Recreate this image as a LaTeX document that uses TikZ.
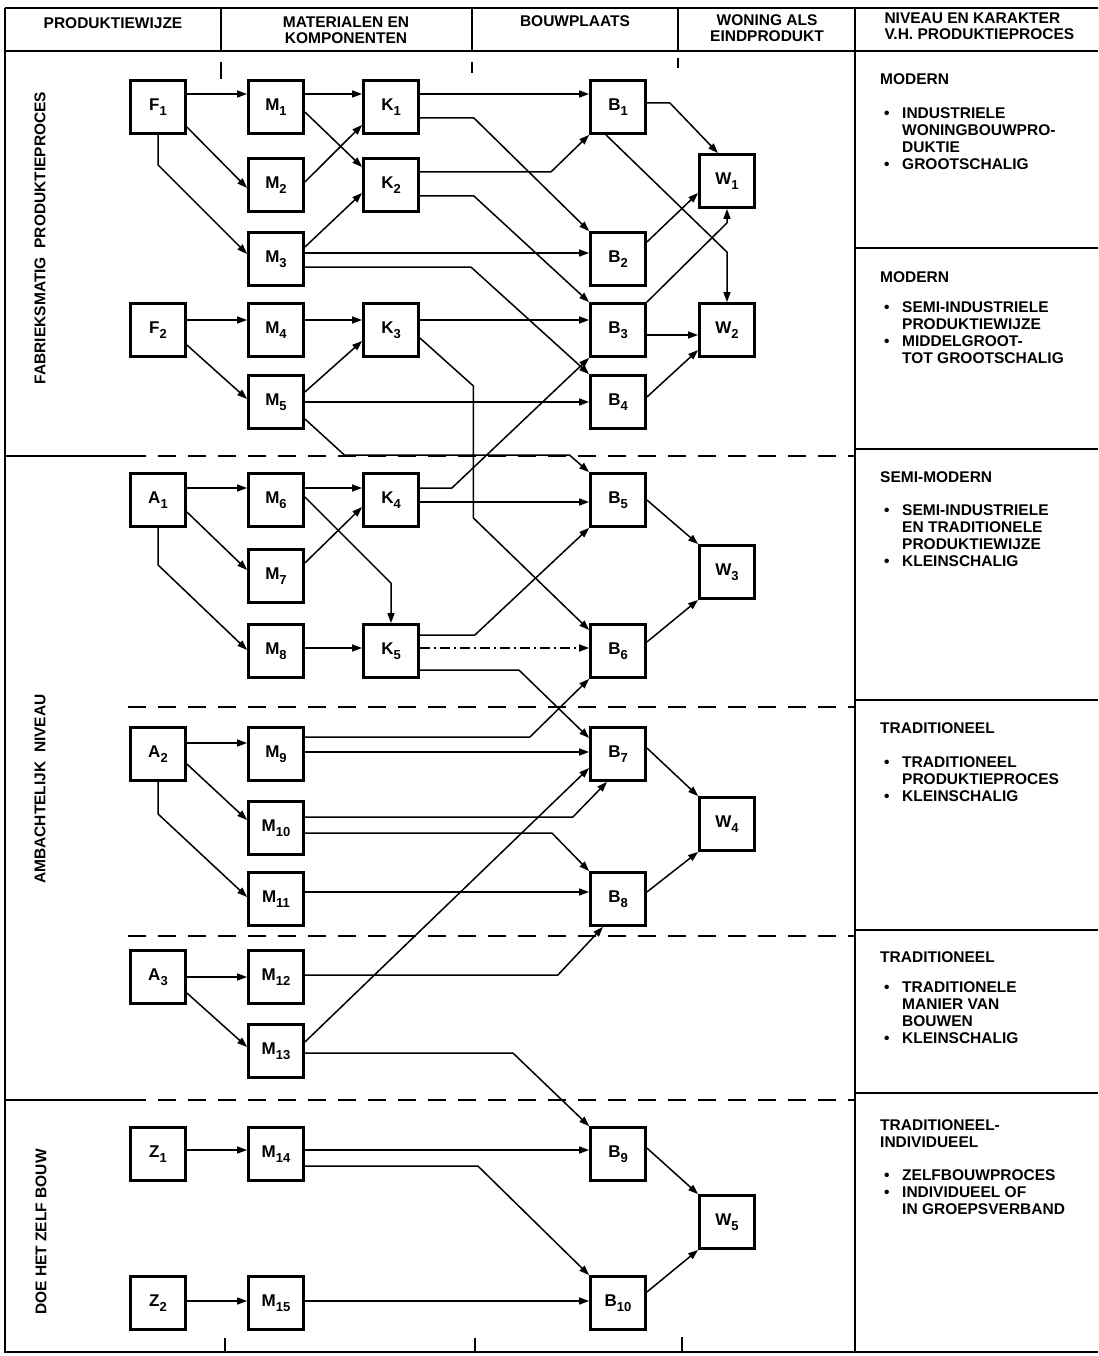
\documentclass[tikz,border=0pt]{standalone}
\usepackage{fontspec}
\setmainfont{Liberation Sans}
\usetikzlibrary{arrows.meta,calc}

\newcommand{\lbl}[2]{{\fontsize{17}{17}\selectfont #1}\raisebox{-5pt}{\fontsize{13}{13}\selectfont #2}}

\begin{document}
\begin{tikzpicture}[
  x=1pt, y=-1pt,
  font=\fontsize{15.5}{17}\selectfont\bfseries,
  box/.style={draw, line width=2.8pt, minimum width=55pt, minimum height=53pt, inner sep=0pt},
  arr/.style={-{Triangle[length=10pt,width=7pt]}, line width=1.5pt},
  mixed/.style={dash pattern=on 10pt off 4pt on 2pt off 4pt},
  frameline/.style={line width=2.2pt},
  divider/.style={line width=1.9pt, dash pattern=on 18pt off 12pt},
  hdr/.style={align=center, font=\fontsize{15.5}{15.5}\selectfont\bfseries},
  side/.style={rotate=90},
  lvl/.style={anchor=base west, inner sep=0pt},
]
\useasboundingbox (0,0) rectangle (1098,1356);
\fill[white] (0,0) rectangle (1098,1356);

%% ---------- table frame ----------
\draw[frameline] (5,8) -- (1098,8);
\draw[frameline] (5,51) -- (1098,51);
\draw[frameline] (5,8) -- (5,1352) -- (1098,1352);
\foreach \x in {221,472,678}
  \draw[frameline] (\x,8) -- (\x,51);
\draw[frameline] (855,8) -- (855,1352);
\draw[line width=1.6pt] (221,62) -- (221,79);
\draw[line width=1.6pt] (472,62) -- (472,73);
\draw[line width=1.6pt] (678,58) -- (678,68);
\draw[line width=1.6pt] (225,1338) -- (225,1352);
\draw[line width=1.6pt] (475,1338) -- (475,1352);
\draw[line width=1.6pt] (682,1337) -- (682,1352);
\foreach \y in {248,449,700,930,1093}
  \draw[frameline] (855,\y) -- (1098,\y);
\draw[frameline] (5,456) -- (128,456);
\draw[frameline] (5,1100) -- (128,1100);
\foreach \y in {456,707,936,1100}
  \draw[divider] (128,\y) -- (855,\y);

%% ---------- headers ----------
\node[hdr] (h1) at (113,23) {PRODUKTIEWIJZE};
\node[hdr] (h2) at (346,30) {MATERIALEN EN\\KOMPONENTEN};
\node[hdr] (h3) at (575,21) {BOUWPLAATS};
\node[hdr] (h4) at (767,28) {WONING ALS\\EINDPRODUKT};
\node[hdr, align=left, anchor=west] (h5) at (881,26) {NIVEAU EN KARAKTER\\V.H. PRODUKTIEPROCES};

\node[side] (s1) at (40,238) {FABRIEKSMATIG~~PRODUKTIEPROCES};
\node[side] (s2) at (40,789) {AMBACHTELIJK~~NIVEAU};
\node[side] (s3) at (41,1232) {DOE HET ZELF BOUW};

%% ---------- boxes ----------
\node[box] (F1) at (158,107) {\lbl{F}{1}};
\node[box] (M1) at (276,107) {\lbl{M}{1}};
\node[box] (K1) at (391,107) {\lbl{K}{1}};
\node[box] (B1) at (618,107) {\lbl{B}{1}};
\node[box] (M2) at (276,185) {\lbl{M}{2}};
\node[box] (K2) at (391,185) {\lbl{K}{2}};
\node[box] (W1) at (727,181) {\lbl{W}{1}};
\node[box] (M3) at (276,259) {\lbl{M}{3}};
\node[box] (B2) at (618,259) {\lbl{B}{2}};
\node[box] (F2) at (158,330) {\lbl{F}{2}};
\node[box] (M4) at (276,330) {\lbl{M}{4}};
\node[box] (K3) at (391,330) {\lbl{K}{3}};
\node[box] (B3) at (618,330) {\lbl{B}{3}};
\node[box] (W2) at (727,330) {\lbl{W}{2}};
\node[box] (M5) at (276,402) {\lbl{M}{5}};
\node[box] (B4) at (618,402) {\lbl{B}{4}};

\node[box] (A1) at (158,500) {\lbl{A}{1}};
\node[box] (M6) at (276,500) {\lbl{M}{6}};
\node[box] (K4) at (391,500) {\lbl{K}{4}};
\node[box] (B5) at (618,500) {\lbl{B}{5}};
\node[box] (M7) at (276,576) {\lbl{M}{7}};
\node[box] (W3) at (727,572) {\lbl{W}{3}};
\node[box] (M8) at (276,651) {\lbl{M}{8}};
\node[box] (K5) at (391,651) {\lbl{K}{5}};
\node[box] (B6) at (618,651) {\lbl{B}{6}};

\node[box] (A2) at (158,754) {\lbl{A}{2}};
\node[box] (M9) at (276,754) {\lbl{M}{9}};
\node[box] (B7) at (618,754) {\lbl{B}{7}};
\node[box] (M10) at (276,828) {\lbl{M}{10}};
\node[box] (W4) at (727,824) {\lbl{W}{4}};
\node[box] (M11) at (276,899) {\lbl{M}{11}};
\node[box] (B8) at (618,899) {\lbl{B}{8}};

\node[box] (A3) at (158,977) {\lbl{A}{3}};
\node[box] (M12) at (276,977) {\lbl{M}{12}};
\node[box] (M13) at (276,1051) {\lbl{M}{13}};

\node[box] (Z1) at (158,1154) {\lbl{Z}{1}};
\node[box] (M14) at (276,1154) {\lbl{M}{14}};
\node[box] (B9) at (618,1154) {\lbl{B}{9}};
\node[box] (W5) at (727,1222) {\lbl{W}{5}};
\node[box] (Z2) at (158,1303) {\lbl{Z}{2}};
\node[box] (M15) at (276,1303) {\lbl{M}{15}};
\node[box] (B10) at (618,1303) {\lbl{B}{10}};

%% ---------- fabrieksmatig ----------
\draw[arr] ($(F1.east)+(0,-13)$) -- ($(M1.west)+(0,-13)$);
\draw[arr] ($(M1.east)+(0,-13)$) -- ($(K1.west)+(0,-13)$);
\draw[arr] ($(K1.east)+(0,-13)$) -- ($(B1.west)+(0,-13)$);
\draw[arr] ($(F1.east)+(0,20)$) -- ($(M2.west)+(0,3)$);
\draw[arr] (F1.south) -- ++(0,30) -- ($(M3.west)+(0,-5)$);
\draw[arr] ($(M1.east)+(0,5)$) -- ($(K2.west)+(0,-18)$);
\draw[arr] ($(M2.east)+(0,-3)$) -- ($(K1.west)+(0,18)$);
\draw[arr] ($(M3.east)+(0,-12)$) -- ($(K2.west)+(0,8)$);
\draw[arr] ($(K1.east)+(0,11)$) -- ++(54,0) -- (B2.north west);
\draw[arr] ($(K2.east)+(0,-13)$) -- ++(131,0) -- (B1.south west);
\draw[arr] ($(K2.east)+(0,11)$) -- ++(54,0) -- (B3.north west);
\draw[arr] ($(M3.east)+(0,-6)$) -- ($(B2.west)+(0,-6)$);
\draw[arr] ($(M3.east)+(0,8)$) -- ++(166,0) -- (B4.north west);

\draw[arr] ($(F2.east)+(0,-10)$) -- ($(M4.west)+(0,-10)$);
\draw[arr] ($(M4.east)+(0,-10)$) -- ($(K3.west)+(0,-10)$);
\draw[arr] ($(K3.east)+(0,-10)$) -- ($(B3.west)+(0,-10)$);
\draw[arr] ($(F2.east)+(0,15)$) -- ($(M5.west)+(0,-3)$);
\draw[arr] ($(M5.east)+(0,-10)$) -- ($(K3.west)+(0,11)$);
\draw[arr] (M5.east) -- (B4.west);
\draw[arr] ($(K3.east)+(0,8)$) -- ++(53.5,48) -- ++(0,132) -- ($(B6.west)+(0,-21)$);
\draw[arr] ($(M5.east)+(0,17)$) -- ++(39.5,36) -- ++(225,0) -- (B5.north west);

%% ---------- ambachtelijk ----------
\draw[arr] ($(A1.east)+(0,-12)$) -- ($(M6.west)+(0,-12)$);
\draw[arr] ($(M6.east)+(0,-12)$) -- ($(K4.west)+(0,-12)$);
\draw[arr] ($(A1.east)+(0,12)$) -- ($(M7.west)+(0,-6)$);
\draw[arr] (A1.south) -- ++(0,37) -- ($(M8.west)+(0,-1)$);
\draw[arr] ($(M7.east)+(0,-13)$) -- ($(K4.west)+(0,7)$);
\draw[arr] ($(M6.east)+(0,-3)$) -- ($(K5.north)+(0,-40)$) -- (K5.north);
\draw[arr] ($(K4.east)+(0,-12)$) -- ++(32,0) -- (B3.south west);
\draw[arr] ($(K4.east)+(0,2)$) -- ($(B5.west)+(0,2)$);
\draw[arr] ($(M8.east)+(0,-3)$) -- ($(K5.west)+(0,-3)$);
\draw[arr] ($(K5.east)+(0,-16)$) -- ++(55,0) -- (B5.south west);
\draw[arr, mixed] ($(K5.east)+(0,-3)$) -- ($(B6.west)+(0,-3)$);
\draw[arr] ($(K5.east)+(0,19)$) -- ++(99,0) -- ($(B7.west)+(0,-16)$);

\draw[arr] ($(A2.east)+(0,-11)$) -- ($(M9.west)+(0,-11)$);
\draw[arr] ($(A2.east)+(0,10)$) -- ($(M10.west)+(0,-8)$);
\draw[arr] (A2.south) -- ++(0,32) -- ($(M11.west)+(0,-2)$);
\draw[arr] ($(M9.east)+(0,-17)$) -- ++(225,0) -- (B6.south west);
\draw[arr] ($(M9.east)+(0,-2)$) -- ($(B7.west)+(0,-2)$);
\draw[arr] ($(M10.east)+(0,-11)$) -- ++(268,0) -- ($(B7.south)+(-11,0)$);
\draw[arr] ($(M10.east)+(0,5)$) -- ++(247,0) -- (B8.north west);
\draw[arr] ($(M11.east)+(0,-7)$) -- ($(B8.west)+(0,-7)$);

\draw[arr] (A3.east) -- (M12.west);
\draw[arr] ($(A3.east)+(0,16)$) -- ($(M13.west)+(0,-4)$);
\draw[arr] ($(M12.east)+(0,-2)$) -- ++(253,0) -- ($(B8.south)+(-15,0)$);
\draw[arr] ($(M13.east)+(0,-9)$) -- ($(B7.west)+(0,14)$);
\draw[arr] ($(M13.east)+(0,2)$) -- ++(208,0) -- (B9.north west);

%% ---------- doe het zelf ----------
\draw[arr] ($(Z1.east)+(0,-4)$) -- ($(M14.west)+(0,-4)$);
\draw[arr] ($(M14.east)+(0,-4)$) -- ($(B9.west)+(0,-4)$);
\draw[arr] ($(M14.east)+(0,12)$) -- ++(173,0) -- (B10.north west);
\draw[arr] ($(Z2.east)+(0,-2)$) -- ($(M15.west)+(0,-2)$);
\draw[arr] ($(M15.east)+(0,-2)$) -- ($(B10.west)+(0,-2)$);

%% ---------- bouwplaats to woning ----------
\draw[arr] ($(B1.east)+(0,-4)$) -- ++(23,0) -- ($(W1.north)+(-9,0)$);
\draw[arr] ($(B1.south)+(-12,0)$) -- ($(W2.north)+(0,-50)$) -- (W2.north);
\draw[arr] ($(B2.east)+(0,-17)$) -- ($(W1.west)+(0,12)$);
\draw[arr] (B3.north east) -- ($(W1.south)+(0,14)$) -- (W1.south);
\draw[arr] ($(B3.east)+(0,5)$) -- ($(W2.west)+(0,5)$);
\draw[arr] ($(B4.east)+(0,-5)$) -- ($(W2.west)+(0,20)$);
\draw[arr] (B5.east) -- (W3.north west);
\draw[arr] ($(B6.east)+(0,-9)$) -- (W3.south west);
\draw[arr] ($(B7.east)+(0,-6)$) -- (W4.north west);
\draw[arr] ($(B8.east)+(0,-7)$) -- (W4.south west);
\draw[arr] ($(B9.east)+(0,-6)$) -- (W5.north west);
\draw[arr] ($(B10.east)+(0,-11)$) -- (W5.south west);

%% ---------- niveau en karakter ----------
\node[lvl] (n1) at (880,85) {MODERN};
\node[lvl] (n1b) at (884,118.5) {\begin{tabular}[t]{@{}p{18pt}@{}l@{}}
  \textbullet & INDUSTRIELE\\ & WONINGBOUWPRO-\\ & DUKTIE\\
  \textbullet & GROOTSCHALIG\end{tabular}};
\node[lvl] (n2) at (880,282.5) {MODERN};
\node[lvl] (n2b) at (884,312.5) {\begin{tabular}[t]{@{}p{18pt}@{}l@{}}
  \textbullet & SEMI-INDUSTRIELE\\ & PRODUKTIEWIJZE\\
  \textbullet & MIDDELGROOT-\\ & TOT GROOTSCHALIG\end{tabular}};
\node[lvl] (n3) at (880,482.5) {SEMI-MODERN};
\node[lvl] (n3b) at (884,515.5) {\begin{tabular}[t]{@{}p{18pt}@{}l@{}}
  \textbullet & SEMI-INDUSTRIELE\\ & EN TRADITIONELE\\ & PRODUKTIEWIJZE\\
  \textbullet & KLEINSCHALIG\end{tabular}};
\node[lvl] (n4) at (880,733.5) {TRADITIONEEL};
\node[lvl] (n4b) at (884,767.5) {\begin{tabular}[t]{@{}p{18pt}@{}l@{}}
  \textbullet & TRADITIONEEL\\ & PRODUKTIEPROCES\\
  \textbullet & KLEINSCHALIG\end{tabular}};
\node[lvl] (n5) at (880,962.5) {TRADITIONEEL};
\node[lvl] (n5b) at (884,992.5) {\begin{tabular}[t]{@{}p{18pt}@{}l@{}}
  \textbullet & TRADITIONELE\\ & MANIER VAN\\ & BOUWEN\\
  \textbullet & KLEINSCHALIG\end{tabular}};
\node[lvl, align=left] (n6) at (880,1147.5) {TRADITIONEEL-\\INDIVIDUEEL};
\node[lvl] (n6b) at (884,1180.5) {\begin{tabular}[t]{@{}p{18pt}@{}l@{}}
  \textbullet & ZELFBOUWPROCES\\
  \textbullet & INDIVIDUEEL OF\\ & IN GROEPSVERBAND\end{tabular}};

\end{tikzpicture}
\end{document}
